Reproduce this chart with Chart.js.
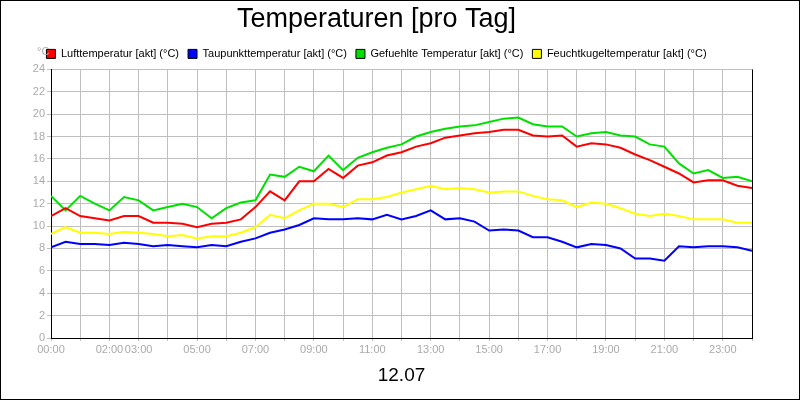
<!DOCTYPE html>
<html><head><meta charset="utf-8">
<script src="https://cdn.jsdelivr.net/npm/chart.js@4"></script>
<style>html,body{margin:0;padding:0;background:#fff}#w{width:798px;height:398px;border:1px solid #000;position:relative}</style>
</head><body><div id="w"><canvas id="c" width="798" height="398"></canvas></div>
<script>
const hours = [0,0.5,1,1.5,2,2.5,3,3.5,4,4.5,5,5.5,6,6.5,7,7.5,8,8.5,9,9.5,10,10.5,11,11.5,12,12.5,13,13.5,14,14.5,15,15.5,16,16.5,17,17.5,18,18.5,19,19.5,20,20.5,21,21.5,22,22.5,23,23.5,24];
const luft = [10.9,11.6,10.9,10.7,10.5,10.9,10.9,10.3,10.3,10.2,9.9,10.2,10.3,10.6,11.7,13.1,12.3,14.0,14.0,15.1,14.3,15.4,15.7,16.3,16.6,17.1,17.4,17.9,18.1,18.3,18.4,18.6,18.6,18.1,18.0,18.1,17.1,17.4,17.3,17.0,16.4,15.9,15.3,14.7,13.9,14.1,14.1,13.6,13.4];
const taupunkt = [8.1,8.6,8.4,8.4,8.3,8.5,8.4,8.2,8.3,8.2,8.1,8.3,8.2,8.6,8.9,9.4,9.7,10.1,10.7,10.6,10.6,10.7,10.6,11.0,10.6,10.9,11.4,10.6,10.7,10.4,9.6,9.7,9.6,9.0,9.0,8.6,8.1,8.4,8.3,8.0,7.1,7.1,6.9,8.2,8.1,8.2,8.2,8.1,7.8];
const gefuehlt = [12.7,11.4,12.7,12.0,11.4,12.6,12.3,11.4,11.7,12.0,11.7,10.7,11.6,12.1,12.3,14.6,14.4,15.3,14.9,16.3,15.0,16.1,16.6,17.0,17.3,18.0,18.4,18.7,18.9,19.0,19.3,19.6,19.7,19.1,18.9,18.9,18.0,18.3,18.4,18.1,18.0,17.3,17.1,15.6,14.7,15.0,14.3,14.4,14.0];
const feucht = [9.3,9.9,9.4,9.4,9.3,9.5,9.4,9.3,9.1,9.2,8.9,9.1,9.1,9.4,9.9,11.0,10.7,11.4,12.0,12.0,11.7,12.4,12.4,12.6,13.0,13.3,13.6,13.3,13.4,13.3,13.0,13.1,13.1,12.7,12.4,12.3,11.7,12.1,12.0,11.6,11.1,10.9,11.1,10.9,10.6,10.6,10.6,10.3,10.3];
const shownTicks = [0,2,3,5,7,9,11,13,15,17,19,21,23];
const seriesNames = ['Lufttemperatur [akt] (°C)','Taupunkttemperatur [akt] (°C)','Gefuehlte Temperatur [akt] (°C)','Feuchtkugeltemperatur [akt] (°C)'];
const colors = ['#ff0000','#0000ff','#00e000','#ffff00'];
const all = [luft,taupunkt,gefuehlt,feucht];
const F = '"Liberation Sans", Arial, sans-serif';
const pad = n => String(n).padStart(2,'0');
const unitPlugin = {id:'unit',afterDraw(c){const x=c.ctx;x.save();x.fillStyle='#aaa';x.font='11px '+F;x.fillText('°C',36,51);x.restore();}};
new Chart(document.getElementById('c'),{
 type:'line',
 data:{datasets:all.map((v,i)=>({label:seriesNames[i],data:hours.map((h,j)=>({x:h,y:v[j]})),borderColor:colors[i],backgroundColor:colors[i],borderWidth:2,pointRadius:0,tension:0}))},
 options:{animation:false,responsive:false,
  layout:{padding:{left:0,right:47,top:0,bottom:8}},
  plugins:{
   title:{display:true,text:'Temperaturen [pro Tag]',color:'#000',font:{family:F,size:27,weight:'normal'},padding:{top:2,bottom:4}},
   legend:{labels:{boxWidth:9,boxHeight:9,color:'#000',font:{family:F,size:11},padding:9,
     generateLabels:(c)=>c.data.datasets.map((d,i)=>({text:d.label,fillStyle:colors[i],strokeStyle:'#000',lineWidth:1,datasetIndex:i}))}},
   tooltip:{enabled:false}},
  scales:{
   x:{type:'linear',min:0,max:24,border:{color:'#000'},grid:{color:'#c0c0c0',drawTicks:true,tickLength:3},
     ticks:{stepSize:1,autoSkip:false,maxRotation:0,color:'#aaa',font:{family:F,size:11},padding:2,
       callback:v=>shownTicks.includes(v)?pad(v)+':00':''},
     title:{display:true,text:'12.07',color:'#000',font:{family:F,size:19},padding:{top:6}}},
   y:{min:0,max:24,border:{color:'#000'},grid:{color:'#c0c0c0',tickLength:4},
     ticks:{stepSize:2,color:'#aaa',font:{family:F,size:11},padding:2},
     afterFit:s=>{s.width=50;}}
  }},
 plugins:[unitPlugin,{id:'rb',afterDraw(c){const a=c.chartArea,x=c.ctx;x.save();x.strokeStyle='#000';x.lineWidth=1;x.beginPath();x.moveTo(a.right+0.5,a.top);x.lineTo(a.right+0.5,a.bottom);x.stroke();x.restore();}}]
});
</script></body></html>
